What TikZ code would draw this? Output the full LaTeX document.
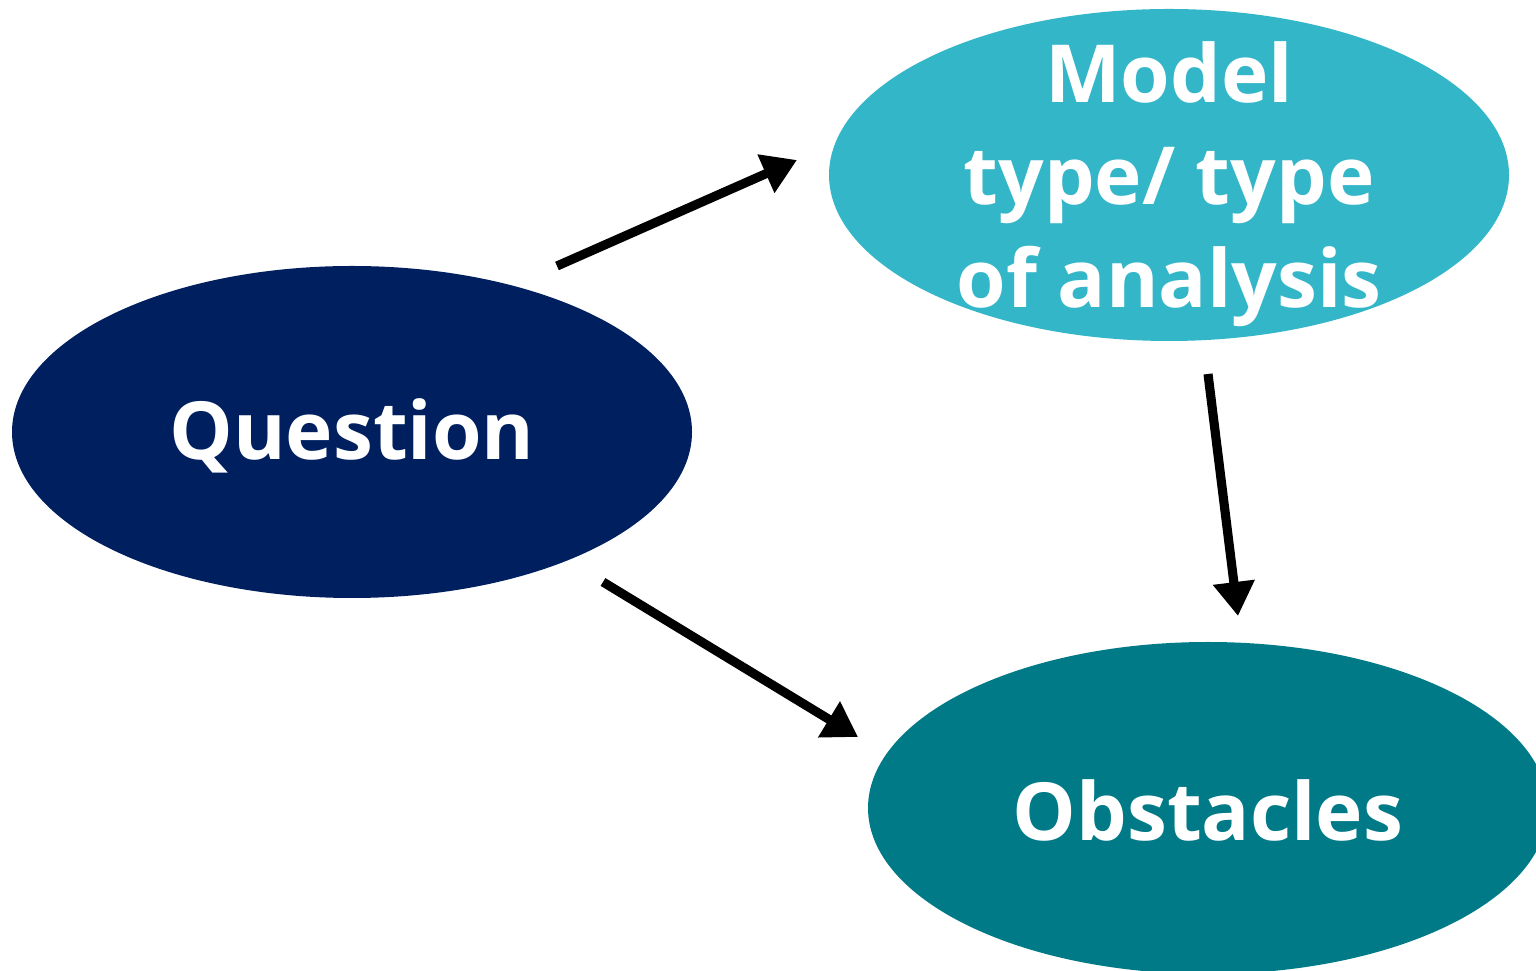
\documentclass[tikz,border=0pt]{standalone}
\usepackage{fontspec}
\setmainfont{Open Sans}[BoldFont={Open Sans Bold}]
\usetikzlibrary{shapes.geometric, arrows.meta}
\definecolor{qnavy}{HTML}{001F5F}
\definecolor{mteal}{HTML}{34B6C9}
\definecolor{odteal}{HTML}{007A87}
\tikzset{
  blob/.style={ellipse, minimum width=6.8cm, minimum height=3.32cm, inner sep=0pt},
  lbl/.style={text=white, font=\bfseries\fontsize{22.8}{29.2}\selectfont, align=center},
  flow/.style={line width=2.6pt, -{Triangle[length=0.34cm, width=0.40cm]}}
}
\begin{document}
\begin{tikzpicture}
				\useasboundingbox (0,0) rectangle (15.36,-9.71);
				\clip (0,0) rectangle (15.36,-9.71);
				\node[blob, fill=qnavy] (q) at (3.52,-4.32) {};
				\node[blob, fill=mteal] (m) at (11.69,-1.75) {};
				\node[blob, fill=odteal] (o) at (12.08,-8.08) {};
				\node[lbl] (qt) at (3.52,-4.36) {Question};
				\node[lbl] (mt) at (11.69,-1.84) {Model\\type/ type\\of analysis};
				\node[lbl] (ot) at (12.08,-8.10) {Obstacles};
				\coordinate (q1) at (5.57,-2.66);
				\coordinate (m1) at (7.97,-1.60);
				\coordinate (m2) at (12.08,-3.74);
				\coordinate (o1) at (12.38,-6.16);
				\coordinate (q2) at (6.03,-5.82);
				\coordinate (o2) at (8.58,-7.37);
				\draw[flow] (q1) -- (m1);
				\draw[flow] (m2) -- (o1);
				\draw[flow] (q2) -- (o2);
\end{tikzpicture}
\end{document}
